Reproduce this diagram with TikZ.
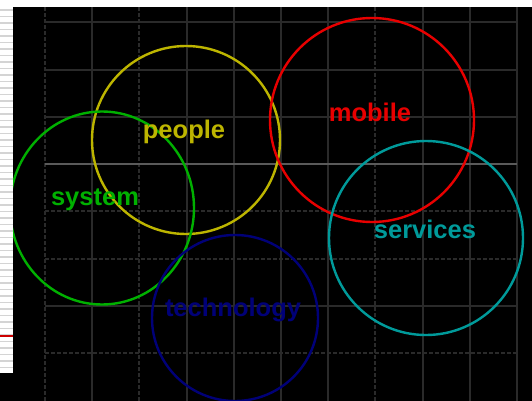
\documentclass[tikz,border=0pt]{standalone}
\usepackage{fontspec}
\setmainfont{Liberation Sans}
\usetikzlibrary{shapes.geometric}
\begin{document}
\begin{tikzpicture}[x=1pt,y=-1pt,
  gridsolid/.style={draw=gridc,line width=2.4pt},
  griddot/.style={draw=gridc,line width=2.4pt,dash pattern=on 4pt off 2pt},
  ring/.style={circle,draw,line width=2.4pt,inner sep=0pt},
  lab/.style={font=\bfseries\fontsize{25.5}{28}\selectfont,inner sep=0pt}]
\definecolor{gridc}{HTML}{2A2A2A}
\definecolor{gridb}{HTML}{5A5A5A}
\definecolor{cyel}{HTML}{BDB500}
\definecolor{cgrn}{HTML}{00B000}
\definecolor{cred}{HTML}{E80000}
\definecolor{ccyn}{HTML}{009A9A}
\definecolor{cnav}{HTML}{000078}
\definecolor{stripe}{HTML}{D4D4D4}
\useasboundingbox (0,0) rectangle (532,401);
\fill[black] (0,0) rectangle (532,401);
% grid
\foreach \x in {92,187,234,281,328,423,470,517} \draw[gridsolid] (\x,7) -- (\x,401);
\foreach \x in {45,139,375} \draw[griddot] (\x,7) -- (\x,401);
\foreach \y in {22,70,117,306} \draw[gridsolid] (45,\y) -- (517,\y);
\foreach \y in {211,259,353} \draw[griddot] (45,\y) -- (517,\y);
\draw[draw=gridb,line width=2.4pt] (45,164) -- (517,164);
% circles
\node[ring,draw=cyel,minimum size=188pt] (people) at (186,140) {};
\node[ellipse,draw=cgrn,line width=2.4pt,inner sep=0pt,minimum width=184pt,minimum height=193pt] (system) at (102,208) {};
\node[ring,draw=cred,minimum size=204pt] (mobile) at (372,120) {};
\node[ring,draw=ccyn,minimum size=194pt] (services) at (426,238) {};
\node[ring,draw=cnav,minimum size=166pt] (technology) at (235,318) {};
% white margins
\fill[white] (0,0) rectangle (532,7);
\fill[white] (0,0) rectangle (13,373);
\foreach \y in {10,16.5,...,370} \draw[stripe,line width=1.2pt] (0,\y) -- (13,\y);
\draw[red!80!black,line width=1.5pt] (0,336) -- (13,336);
% labels
\node[lab,text=cyel] (lpeople) at (184,132) {people};
\node[lab,text=cred] (lmobile) at (370,112) {mobile};
\node[lab,text=cgrn] (lsystem) at (95,200) {system};
\node[lab,text=ccyn] (lservices) at (425,229) {services};
\node[lab,text=cnav] (ltech) at (233,310) {technology};
\end{tikzpicture}
\end{document}
